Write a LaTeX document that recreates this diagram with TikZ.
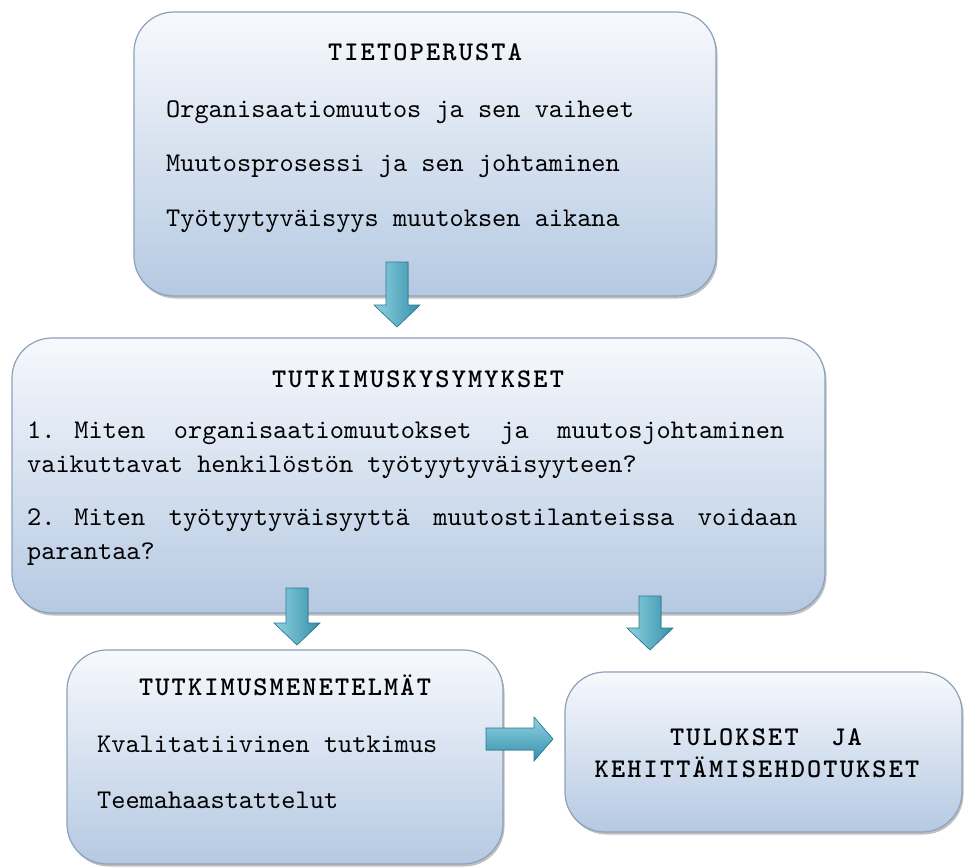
\documentclass[tikz,border=0pt]{standalone}
\usepackage{fontspec}
\newfontfamily\bodyfont{lmmono10-regular.otf}
\newfontfamily\headfont[LetterSpace=8]{lmmonolt10-bold.otf}
\usetikzlibrary{shadows,calc}
\definecolor{boxtop}{HTML}{F7F9FD}
\definecolor{boxbot}{HTML}{B5C9E2}
\definecolor{boxedge}{HTML}{8CA1BB}
\definecolor{arrlight}{HTML}{8FD2E2}
\definecolor{arrdark}{HTML}{3690AA}
\definecolor{arredge}{HTML}{2A7890}
\newcommand\vfatarrow[2]{%
  \filldraw[arrowv] ($(#1)+(-11,0)$) -- ($(#1)+(11,0)$) -- ($(#2)+(11,-22)$) -- ($(#2)+(23,-22)$) -- (#2) -- ($(#2)+(-23,-22)$) -- ($(#2)+(-11,-22)$) -- cycle;}
\newcommand\hfatarrow[2]{%
  \filldraw[arrowh] ($(#1)+(0,-11)$) -- ($(#2)+(-19,-11)$) -- ($(#2)+(-19,-22)$) -- (#2) -- ($(#2)+(-19,22)$) -- ($(#2)+(-19,11)$) -- ($(#1)+(0,11)$) -- cycle;}
\begin{document}
\begin{tikzpicture}[x=1pt,y=-1pt,
  box/.style={draw=boxedge, line width=1.2pt, rounded corners=40pt, top color=boxtop, bottom color=boxbot, inner sep=0pt,
    drop shadow={shadow xshift=1.5pt, shadow yshift=-2.5pt, opacity=0.35, fill=black!70}},
  body/.style={font=\bodyfont\fontsize{27}{34}\selectfont, inner sep=0pt, anchor=base west},
  head/.style={font=\headfont\fontsize{27}{32}\selectfont, inner sep=0pt, anchor=base},
  arrowv/.style={left color=arrlight, right color=arrdark, draw=arredge, line width=0.6pt, line join=miter},
  arrowh/.style={top color=arrlight, bottom color=arrdark, draw=arredge, line width=0.6pt, line join=miter}]
\useasboundingbox (0,0) rectangle (966,867);
\fill[white] (0,0) rectangle (966,867);

% boxes
\node[box, minimum width=582pt, minimum height=284pt] (b1) at (425,154) {};
\node[box, minimum width=813pt, minimum height=275pt] (b2) at (418.5,475.5) {};
\node[box, minimum width=436pt, minimum height=214pt] (b3) at (285,757) {};
\node[box, minimum width=397pt, minimum height=160pt] (b4) at (763.5,752) {};

% box 1 text
\node[head] (t1) at (425,61) {TIETOPERUSTA};
\node[body] (t1a) at (166,117) {Organisaatiomuutos ja sen vaiheet};
\node[body] (t1b) at (166,171) {Muutosprosessi ja sen johtaminen};
\node[body] (t1c) at (166,226) {Työtyytyväisyys muutoksen aikana};

% box 2 text
\node[head] (t2) at (418,387) {TUTKIMUSKYSYMYKSET};
\node[body] (t2a) at (27,438) {\hbox to 757pt{1. Miten\hfill organisaatiomuutokset\hfill ja\hfill muutosjohtaminen}};
\node[body] (t2b) at (27,472) {vaikuttavat henkilöstön työtyytyväisyyteen?};
\node[body] (t2c) at (27,525) {\hbox to 770pt{2. Miten\hfill työtyytyväisyyttä\hfill muutostilanteissa\hfill voidaan}};
\node[body] (t2d) at (27,559) {parantaa?};

% box 3 text
\node[head] (t3) at (285,695) {TUTKIMUSMENETELMÄT};
\node[body] (t3a) at (97,752) {Kvalitatiivinen tutkimus};
\node[body] (t3b) at (97,808) {Teemahaastattelut};

% box 4 text
\node[head] (t4a) at (766,745) {TULOKSET\ \ JA};
\node[head] (t4b) at (757,777) {KEHITTÄMISEHDOTUKSET};

% arrows
\coordinate (a1t) at (397,262);
\coordinate (a1h) at (397,327);
\coordinate (a2t) at (297,588);
\coordinate (a2h) at (297,645);
\coordinate (a3t) at (650,596);
\coordinate (a3h) at (650,650);
\coordinate (a4t) at (486,739);
\coordinate (a4h) at (553,739);
\vfatarrow{a1t}{a1h}
\vfatarrow{a2t}{a2h}
\vfatarrow{a3t}{a3h}
\hfatarrow{a4t}{a4h}
\end{tikzpicture}
\end{document}
